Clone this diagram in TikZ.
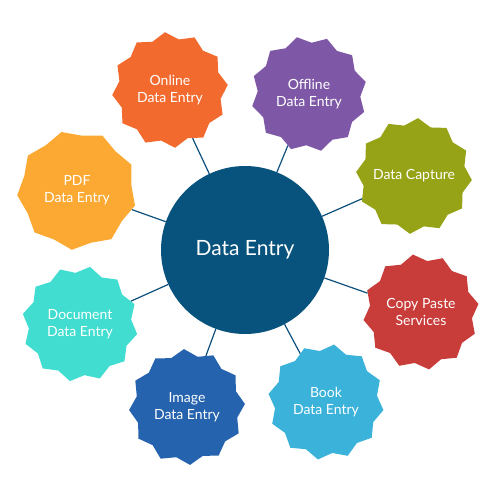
\documentclass[tikz,border=0pt]{standalone}
\usepackage{fontspec}
\setmainfont{Lato}
\usetikzlibrary{shapes.geometric}

\definecolor{hubblue}{RGB}{8,83,125}
\definecolor{spokeblue}{RGB}{13,79,124}
\definecolor{onlineorange}{RGB}{242,106,46}
\definecolor{offlinepurple}{RGB}{126,88,166}
\definecolor{captureolive}{RGB}{151,163,22}
\definecolor{copyred}{RGB}{200,60,58}
\definecolor{bookblue}{RGB}{58,178,218}
\definecolor{imageblue}{RGB}{37,99,174}
\definecolor{docteal}{RGB}{64,221,208}
\definecolor{pdfyellow}{RGB}{251,169,50}

\begin{document}
\begin{tikzpicture}[
    x=1pt, y=-1pt,
    hub/.style={
        circle, fill=hubblue, text=white,
        minimum size=168pt, inner sep=0pt,
        font=\fontsize{21}{25}\selectfont
    },
    burst/.style={
        star, star points=12, star point ratio=1.13,
        minimum size=116pt, inner sep=0pt,
        text=white, align=center,
        font=\fontsize{14}{17}\selectfont
    },
    spoke/.style={draw=spokeblue, line width=1.2pt}
]
\useasboundingbox (0,0) rectangle (500,500);

% ===== CENTRE =====
\node[hub] (entry) at (245,250) {Data Entry};

% ===== BURSTS =====
\node[burst, fill=onlineorange, shape border rotate=5] (online) at (170,90)
{Online\\Data Entry};
\node[burst, fill=offlinepurple, shape border rotate=12] (offline) at (309,94)
{Offline\\Data Entry};
\node[burst, fill=captureolive, shape border rotate=-4] (capture) at (414,176)
{\makebox[60pt]{Data Capture}};
\node[burst, fill=copyred, shape border rotate=8] (copy) at (421,312)
{Copy Paste\\Services};
\node[burst, fill=bookblue, shape border rotate=-8] (book) at (326,402)
{Book\\Data Entry};
\node[burst, fill=imageblue, shape border rotate=3] (image) at (187,407)
{Image\\Data Entry};
\node[burst, fill=docteal, shape border rotate=-10] (document) at (80,324)
{Document\\Data Entry};
\node[burst, fill=pdfyellow, star points=9, star point ratio=1.1, minimum size=120pt, shape border rotate=15] (pdf) at (77,190)
{PDF\\Data Entry};

% ===== SPOKES =====
\foreach \leaf in {online, offline, capture, copy, book, image, document, pdf}
    \draw[spoke] (entry) -- (\leaf);

\end{tikzpicture}
\end{document}
